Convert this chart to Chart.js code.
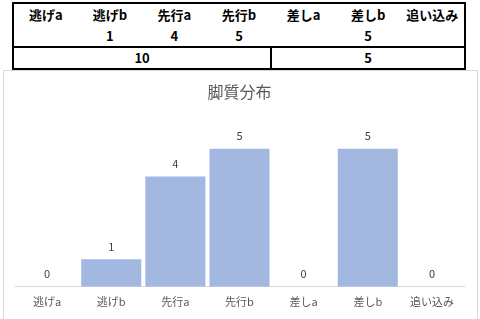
<!DOCTYPE html>
<html>
<head>
<meta charset="utf-8">
<script src="https://cdn.jsdelivr.net/npm/chart.js@4.4.1/dist/chart.umd.min.js"></script>
<style>
  html, body { margin: 0; padding: 0; background: #fff; width: 480px; height: 319px; overflow: hidden; }
  #tbl { position: absolute; left: 12px; top: 2px; border-collapse: collapse; table-layout: fixed; width: 454px;
         font-family: "Noto Sans CJK JP", "Noto Sans", sans-serif; font-weight: bold; font-size: 13px; color: #000; }
  #tbl td { text-align: center; padding: 0; height: 21px; line-height: 21px; }
  #tbl { border: 2px solid #000; }
  #tbl tr.sum td { border-top: 2px solid #000; height: 20px; line-height: 20px; }
  #tbl tr.sum td.first { border-right: 2px solid #000; }
  #frame { position: absolute; left: 3px; top: 70px; width: 473px; height: 260px; border: 1px solid #d9d9d9; background: #fff; }
  #wrap { position: absolute; left: 3px; top: 70px; width: 474px; height: 249px; }
</style>
</head>
<body>
<table id="tbl"></table>
<div id="frame"></div>
<div id="wrap"><canvas id="c" width="474" height="249"></canvas></div>
<script>
const categories = ["逃げa", "逃げb", "先行a", "先行b", "差しa", "差しb", "追い込み"];
const values = [0, 1, 4, 5, 0, 5, 0];
const groupTotals = [10, 5];
const groupSpans = [4, 3];
const chartTitle = "脚質分布";

// table
const tbl = document.getElementById('tbl');
let cg = '<colgroup>' + categories.map(() => '<col>').join('') + '</colgroup>';
let r1 = '<tr>' + categories.map(c => '<td>' + c + '</td>').join('') + '</tr>';
let r2 = '<tr>' + values.map(v => '<td>' + (v ? v : '') + '</td>').join('') + '</tr>';
let r3 = '<tr class="sum">' + groupTotals.map((t, i) => '<td colspan="' + groupSpans[i] + '"' + (i === 0 ? ' class="first"' : '') + '>' + t + '</td>').join('') + '</tr>';
tbl.innerHTML = cg + r1 + r2 + r3;

const valueLabels = {
  id: 'valueLabels',
  afterDatasetsDraw(chart) {
    const ctx = chart.ctx;
    const meta = chart.getDatasetMeta(0);
    ctx.save();
    ctx.font = '11px "Noto Sans CJK JP", "Noto Sans", sans-serif';
    ctx.fillStyle = '#404040';
    ctx.textAlign = 'center';
    ctx.textBaseline = 'middle';
    meta.data.forEach((bar, i) => {
      ctx.fillText(String(values[i]), bar.x, bar.y - 12.5);
    });
    ctx.restore();
  }
};

new Chart(document.getElementById('c'), {
  type: 'bar',
  data: {
    labels: categories,
    datasets: [{
      data: values,
      backgroundColor: '#a2b8e1',
      borderWidth: 0,
      categoryPercentage: 1.0,
      barPercentage: 0.936
    }]
  },
  options: {
    responsive: false,
    animation: false,
    maintainAspectRatio: false,
    layout: { padding: { left: 12, right: 13, top: 12, bottom: 3 } },
    plugins: {
      legend: { display: false },
      tooltip: { enabled: false },
      title: {
        display: true,
        text: chartTitle,
        color: '#595959',
        font: { size: 16, family: '"Noto Sans CJK JP", "Noto Sans", sans-serif', weight: 'normal' },
        padding: { top: 0, bottom: 20 }
      }
    },
    scales: {
      x: {
        grid: { display: false, drawTicks: false },
        border: { display: true, color: '#d9d9d9', width: 1 },
        ticks: { color: '#595959', padding: 8, font: { size: 11, family: '"Noto Sans CJK JP", "Noto Sans", sans-serif' }, maxRotation: 0 }
      },
      y: {
        display: false,
        min: 0,
        max: 6
      }
    }
  },
  plugins: [valueLabels]
});
</script>
</body>
</html>
